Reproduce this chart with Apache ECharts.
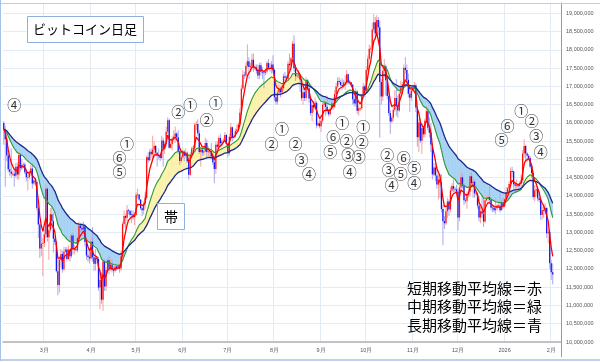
<!DOCTYPE html>
<html><head><meta charset="utf-8">
<script src="https://cdn.jsdelivr.net/npm/echarts@6/dist/echarts.min.js"></script>
<style>html,body{margin:0;padding:0;background:#fff;}#c{width:600px;height:362px;}</style>
</head><body><div id="c"></div>
<script>
// Prices in 万円 (10,000 JPY). Daily candles from 2025-02-02.
const startDate = '2025-02-02';
const axisDays = 371;
const firstOpen = 1600;
const closes = [
1583,1555,1511,1473,1466,1461,1461,1455,1480,1459,
1512,1476,1485,1486,1465,1451,1451,1463,1475,1434,
1442,1438,1367,1322,1256,1269,1271,1295,1420,1287,
1306,1350,1331,1283,1274,1194,1156,1225,1241,1199,
1247,1253,1227,1253,1235,1292,1253,1254,1251,1285,
1319,1312,1308,1317,1274,1237,1233,1229,1275,1232,
1214,1231,1227,1149,1170,1116,1221,1152,1197,1224,
1201,1212,1198,1195,1207,1202,1210,1201,1234,1323,
1345,1340,1361,1359,1348,1350,1342,1348,1403,1404,
1390,1366,1361,1379,1395,1506,1498,1521,1514,1527,
1537,1518,1511,1509,1504,1552,1530,1543,1576,1607,
1532,1542,1557,1562,1571,1561,1523,1496,1506,1522,
1510,1518,1495,1458,1513,1530,1532,1595,1597,1572,
1520,1527,1519,1522,1545,1520,1522,1522,1509,1492,
1474,1540,1535,1559,1544,1549,1552,1567,1542,1517,
1562,1588,1561,1563,1578,1582,1596,1628,1694,1732,
1730,1756,1769,1753,1756,1773,1752,1752,1743,1730,
1758,1740,1738,1737,1741,1764,1751,1749,1760,1745,
1670,1658,1683,1692,1684,1695,1728,1724,1721,1762,
1758,1777,1817,1750,1728,1730,1730,1719,1668,1684,
1668,1717,1695,1667,1627,1649,1642,1655,1593,1599,
1591,1606,1650,1654,1644,1632,1624,1639,1653,1644,
1679,1700,1715,1712,1704,1701,1711,1711,1733,1711,
1711,1705,1665,1653,1686,1633,1640,1640,1676,1700,
1688,1745,1776,1803,1804,1856,1876,1845,1882,1862,
1712,1672,1742,1755,1717,1674,1627,1604,1614,1636,
1668,1648,1634,1680,1697,1706,1751,1745,1718,1680,
1669,1688,1696,1703,1642,1561,1601,1551,1586,1569,
1606,1632,1587,1573,1541,1459,1478,1456,1431,1445,
1437,1364,1331,1325,1358,1385,1363,1415,1427,1420,
1418,1412,1341,1423,1451,1428,1388,1387,1404,1412,
1454,1435,1439,1407,1407,1374,1341,1358,1351,1330,
1388,1392,1397,1389,1368,1367,1361,1366,1374,1374,
1361,1383,1371,1391,1411,1421,1433,1468,1467,1432,
1428,1429,1427,1434,1442,1516,1537,1516,1510,1504,
1480,1463,1397,1415,1418,1394,1389,1348,1361,1360,
1367,1298,1301,1216,1191,1185];
const highs = [
1605,1592,1575,1520,1500,1530,1470,1475,1490,1492,
1520,1518,1500,1492,1492,1475,1465,1470,1485,1490,
1448,1450,1445,1372,1330,1300,1285,1310,1432,1425,
1320,1367,1370,1355,1290,1278,1230,1235,1255,1250,
1260,1260,1260,1265,1255,1298,1300,1265,1260,1290,
1330,1325,1327,1330,1322,1280,1255,1250,1285,1315,
1240,1255,1235,1233,1200,1190,1225,1228,1205,1232,
1235,1228,1225,1210,1215,1212,1215,1212,1250,1330,
1360,1350,1375,1365,1362,1362,1360,1355,1410,1420,
1405,1392,1375,1385,1410,1510,1520,1528,1530,1565,
1550,1540,1520,1530,1515,1565,1560,1550,1590,1615,
1612,1555,1565,1580,1590,1575,1580,1530,1512,1528,
1525,1530,1522,1505,1520,1535,1540,1600,1605,1610,
1580,1535,1530,1528,1560,1555,1535,1530,1545,1515,
1500,1548,1550,1565,1570,1555,1558,1575,1570,1545,
1570,1600,1590,1570,1585,1595,1602,1640,1705,1745,
1740,1765,1815,1780,1765,1790,1790,1760,1760,1760,
1765,1765,1752,1745,1748,1770,1775,1765,1770,1785,
1750,1680,1690,1705,1700,1705,1735,1740,1730,1770,
1790,1780,1825,1840,1760,1738,1745,1730,1720,1695,
1690,1725,1720,1705,1670,1655,1660,1670,1660,1605,
1610,1615,1655,1665,1660,1675,1635,1645,1665,1670,
1690,1710,1725,1725,1718,1722,1718,1730,1745,1735,
1718,1712,1705,1675,1695,1690,1650,1645,1680,1710,
1705,1755,1785,1815,1812,1875,1898,1890,1895,1890,
1880,1720,1750,1775,1760,1730,1690,1635,1620,1645,
1690,1720,1675,1690,1715,1712,1760,1780,1760,1735,
1695,1700,1702,1712,1708,1645,1610,1612,1600,1590,
1612,1645,1640,1615,1600,1545,1490,1490,1480,1460,
1460,1460,1375,1345,1375,1395,1390,1425,1435,1445,
1425,1430,1420,1430,1465,1460,1435,1395,1412,1430,
1462,1465,1448,1445,1415,1410,1400,1370,1400,1395,
1395,1400,1403,1425,1395,1375,1375,1395,1378,1380,
1410,1390,1395,1395,1425,1425,1440,1478,1480,1470,
1440,1445,1432,1440,1458,1525,1555,1540,1520,1515,
1510,1485,1470,1430,1430,1425,1398,1395,1372,1375,
1380,1370,1310,1305,1225,1215];
const lows = [
1540,1425,1495,1465,1455,1450,1455,1425,1450,1445,
1445,1465,1470,1478,1460,1440,1415,1445,1455,1420,
1430,1428,1360,1285,1230,1235,1180,1260,1285,1275,
1225,1300,1310,1245,1265,1190,1128,1135,1205,1190,
1195,1245,1220,1225,1220,1230,1240,1240,1248,1245,
1280,1300,1290,1295,1262,1225,1220,1215,1225,1220,
1195,1195,1215,1140,1090,1105,1085,1140,1140,1190,
1185,1195,1190,1180,1190,1195,1198,1190,1195,1225,
1315,1310,1330,1350,1340,1325,1335,1320,1345,1395,
1385,1362,1345,1350,1365,1390,1490,1495,1505,1500,
1505,1510,1480,1500,1495,1500,1480,1515,1535,1570,
1530,1530,1525,1550,1545,1550,1515,1485,1490,1500,
1495,1505,1490,1445,1455,1510,1520,1525,1580,1565,
1515,1480,1510,1510,1520,1505,1505,1510,1500,1485,
1435,1460,1525,1530,1540,1535,1545,1550,1535,1505,
1510,1560,1550,1555,1560,1570,1575,1590,1620,1690,
1720,1725,1750,1720,1740,1745,1740,1745,1735,1720,
1720,1730,1720,1695,1730,1735,1745,1740,1735,1735,
1660,1650,1650,1680,1670,1675,1690,1715,1715,1715,
1745,1745,1770,1740,1715,1722,1722,1685,1660,1650,
1660,1660,1690,1655,1620,1605,1630,1635,1585,1590,
1585,1575,1600,1640,1620,1625,1618,1620,1635,1635,
1640,1670,1695,1705,1700,1690,1695,1690,1705,1705,
1705,1700,1650,1645,1645,1625,1620,1632,1635,1665,
1670,1680,1740,1770,1790,1800,1850,1830,1840,1840,
1560,1650,1660,1725,1675,1665,1620,1570,1600,1605,
1630,1620,1615,1630,1670,1690,1700,1735,1705,1670,
1630,1660,1685,1690,1630,1535,1520,1545,1515,1560,
1560,1600,1580,1560,1520,1445,1455,1440,1420,1390,
1395,1355,1265,1310,1320,1340,1345,1355,1410,1410,
1410,1405,1305,1330,1415,1420,1375,1380,1365,1395,
1400,1425,1395,1395,1400,1365,1330,1325,1340,1315,
1325,1385,1385,1380,1360,1355,1355,1350,1360,1368,
1355,1360,1365,1368,1385,1405,1415,1428,1450,1420,
1410,1415,1420,1422,1420,1435,1505,1500,1495,1498,
1475,1450,1390,1385,1400,1385,1382,1335,1335,1340,
1350,1285,1270,1200,1170,1158];
// moving-average periods (short / medium / long)
const maPeriods = [5, 20, 40];
// stage annotations: [label, day index, price(万円)]
const stageLabels = ['④','①','⑥','⑤','②','①','①','②','①','②','②','③','④','①','⑥','②','⑤','③','③','④','①','②','②','⑥','③','⑤','⑤','④','④','①','⑥','②','⑤','③','④'];
const stageDays   = [7,82,77,77,116,124,141,135,185,178,194,198,203,225,219,228,217,229,236,230,239,238,255,266,256,264,273,258,273,344,335,351,331,354,357];
const stagePrices = [1650,1543,1504,1466,1631,1650,1656,1609,1584,1543,1543,1499,1460,1600,1562,1551,1521,1512,1507,1466,1590,1548,1512,1504,1471,1460,1477,1430,1435,1634,1592,1606,1554,1565,1521];

// ---- build ----
const cats = [];
const t0 = Date.parse(startDate + 'T00:00:00Z');
for (let i = 0; i < axisDays; i++) cats.push(new Date(t0 + i * 86400000).toISOString().slice(0, 10));
const opens = closes.map((c, i) => i === 0 ? firstOpen : closes[i - 1]);
const candleData = closes.map((c, i) => [i, opens[i], c, lows[i], highs[i]]);
function ema(arr, n) { const a = 2 / (n + 1); let e = arr[0]; return arr.map((v, i) => { e = i === 0 ? v : e + a * (v - e); return e; }); }
const maS = ema(closes, maPeriods[0]), maM = ema(closes, maPeriods[1]), maL = ema(closes, maPeriods[2]);
const bandData = [];
for (let i = 0; i < closes.length - 1; i++) bandData.push([i, maM[i], maL[i], maM[i + 1], maL[i + 1]]);
const isMonthStart = (i, v) => v.slice(8) === '01';
const UP = '#fbf1ac', DN = '#a8d3f4';

const chart = echarts.init(document.getElementById('c'), null, { renderer: 'canvas' });
chart.setOption({
  animation: false,
  backgroundColor: '#fff',
  grid: { left: 3, right: 39, top: 3, bottom: 20, containLabel: false, outerBoundsMode: 'none' },
  xAxis: {
    type: 'category', data: cats, boundaryGap: true,
    axisLine: { show: true, lineStyle: { color: '#b3b3b3', width: 1.5 } },
    axisTick: { show: false },
    axisLabel: { interval: isMonthStart, fontSize: 5.5, color: '#555', margin: 5, fontFamily: 'Liberation Sans, Arial, sans-serif',
      formatter: v => { const m = +v.slice(5, 7); return m === 1 ? v.slice(0, 4) : m + '月'; } },
    splitLine: { show: true, interval: isMonthStart, lineStyle: { color: '#e3ecf5', width: 1 } }
  },
  yAxis: {
    type: 'value', position: 'right', min: 1000, max: 1928.4, interval: 50,
    axisLine: { show: true, lineStyle: { color: '#9a9a9a', width: 1 } },
    axisTick: { show: false },
    axisLabel: { fontSize: 5.5, color: '#555', margin: 5, fontFamily: 'Liberation Sans, Arial, sans-serif',
      formatter: v => (Math.round(v) % 50 === 0) ? (Math.round(v) * 10000).toLocaleString('en-US') : '' },
    splitLine: { show: true, lineStyle: { color: '#e3ecf5', width: 1 } }
  },
  series: [
    { type: 'custom', z: 1, data: bandData, silent: true,
      renderItem: (params, api) => {
        const i = api.value(0), g0 = api.value(1), b0 = api.value(2), g1 = api.value(3), b1 = api.value(4);
        const pg0 = api.coord([i, g0]), pb0 = api.coord([i, b0]), pg1 = api.coord([i + 1, g1]), pb1 = api.coord([i + 1, b1]);
        const d0 = g0 - b0, d1 = g1 - b1;
        const st = c => ({ fill: c, stroke: c, lineWidth: 0.6 });
        const ch = [];
        if (d0 * d1 >= 0) {
          ch.push({ type: 'polygon', shape: { points: [pg0, pg1, pb1, pb0] }, style: st((d0 + d1) >= 0 ? UP : DN) });
        } else {
          const t = d0 / (d0 - d1);
          const pc = [pg0[0] + t * (pg1[0] - pg0[0]), pg0[1] + t * (pg1[1] - pg0[1])];
          ch.push({ type: 'polygon', shape: { points: [pg0, pc, pb0] }, style: st(d0 > 0 ? UP : DN) });
          ch.push({ type: 'polygon', shape: { points: [pc, pg1, pb1] }, style: st(d1 > 0 ? UP : DN) });
        }
        return { type: 'group', children: ch };
      } },
    { type: 'custom', z: 2, data: candleData, silent: true,
      renderItem: (params, api) => {
        const i = api.value(0), o = api.value(1), c = api.value(2), l = api.value(3), h = api.value(4);
        const up = c >= o;
        const po = api.coord([i, o]), pc = api.coord([i, c]);
        const pl = api.coord([i, Math.min(l, o, c)]), ph = api.coord([i, Math.max(h, o, c)]);
        const w = api.size([1, 0])[0] * 0.85;
        const top = Math.min(po[1], pc[1]), hgt = Math.max(Math.abs(po[1] - pc[1]), 0.8);
        return { type: 'group', children: [
          { type: 'line', shape: { x1: po[0], y1: ph[1], x2: po[0], y2: pl[1] }, style: { stroke: up ? '#f3a3a3' : '#a9a9ef', lineWidth: 1 } },
          { type: 'rect', shape: { x: po[0] - w / 2, y: top, width: w, height: hgt }, style: { fill: up ? '#ff1010' : '#1414f5' } }
        ] };
      } },
    { type: 'line', z: 3, data: maM, symbol: 'none', lineStyle: { color: '#2f9a35', width: 1.1 }, silent: true },
    { type: 'line', z: 3, data: maL, symbol: 'none', lineStyle: { color: '#1b2a8c', width: 1.3 }, silent: true },
    { type: 'line', z: 4, data: maS, symbol: 'none', lineStyle: { color: '#ff0000', width: 1.3 }, silent: true },
    { type: 'scatter', z: 5, symbolSize: 0, silent: true,
      data: stageLabels.map((s, k) => ({ name: s, value: [stageDays[k], stagePrices[k]] })),
      label: { show: true, position: 'inside', formatter: p => p.name, fontSize: 14, color: '#000',
        fontFamily: 'Noto Sans CJK JP, sans-serif' } }
  ],
  graphic: [
    { type: 'line', shape: { x1: 0, y1: 3.5, x2: 600, y2: 3.5 }, style: { stroke: '#c4ccd8', lineWidth: 1 }, z: 10 },
    { type: 'line', shape: { x1: 0.5, y1: 0, x2: 0.5, y2: 361 }, style: { stroke: '#a6c2e8', lineWidth: 1 }, z: 10 },
    { type: 'line', shape: { x1: 0, y1: 360, x2: 600, y2: 360 }, style: { stroke: '#a6c2e8', lineWidth: 1.5 }, z: 10 },
    { type: 'line', shape: { x1: 561.5, y1: 342, x2: 561.5, y2: 357 }, style: { stroke: '#9a9a9a', lineWidth: 1 }, z: 10 },
    { type: 'rect', shape: { x: 27.5, y: 16.5, width: 116, height: 26 }, style: { fill: '#fff', stroke: '#8fb0de', lineWidth: 1 }, z: 10 },
    { type: 'text', x: 85, y: 29.5, style: { text: 'ビットコイン日足', fontSize: 13, fill: '#000', align: 'center', verticalAlign: 'middle', fontFamily: 'Noto Sans CJK JP, sans-serif' }, z: 11 },
    { type: 'rect', shape: { x: 157.5, y: 203.5, width: 27, height: 26 }, style: { fill: '#fff', stroke: '#8fb0de', lineWidth: 1 }, z: 10 },
    { type: 'text', x: 171, y: 216.5, style: { text: '帯', fontSize: 14, fill: '#000', align: 'center', verticalAlign: 'middle', fontFamily: 'Noto Sans CJK JP, sans-serif' }, z: 11 },
    { type: 'text', x: 407, y: 288, style: { text: '短期移動平均線＝赤', fontSize: 15, fill: '#000', align: 'left', verticalAlign: 'middle', fontFamily: 'Noto Sans CJK JP, sans-serif' }, z: 11 },
    { type: 'text', x: 407, y: 306.5, style: { text: '中期移動平均線＝緑', fontSize: 15, fill: '#000', align: 'left', verticalAlign: 'middle', fontFamily: 'Noto Sans CJK JP, sans-serif' }, z: 11 },
    { type: 'text', x: 407, y: 325, style: { text: '長期移動平均線＝青', fontSize: 15, fill: '#000', align: 'left', verticalAlign: 'middle', fontFamily: 'Noto Sans CJK JP, sans-serif' }, z: 11 }
  ]
});
</script></body></html>
